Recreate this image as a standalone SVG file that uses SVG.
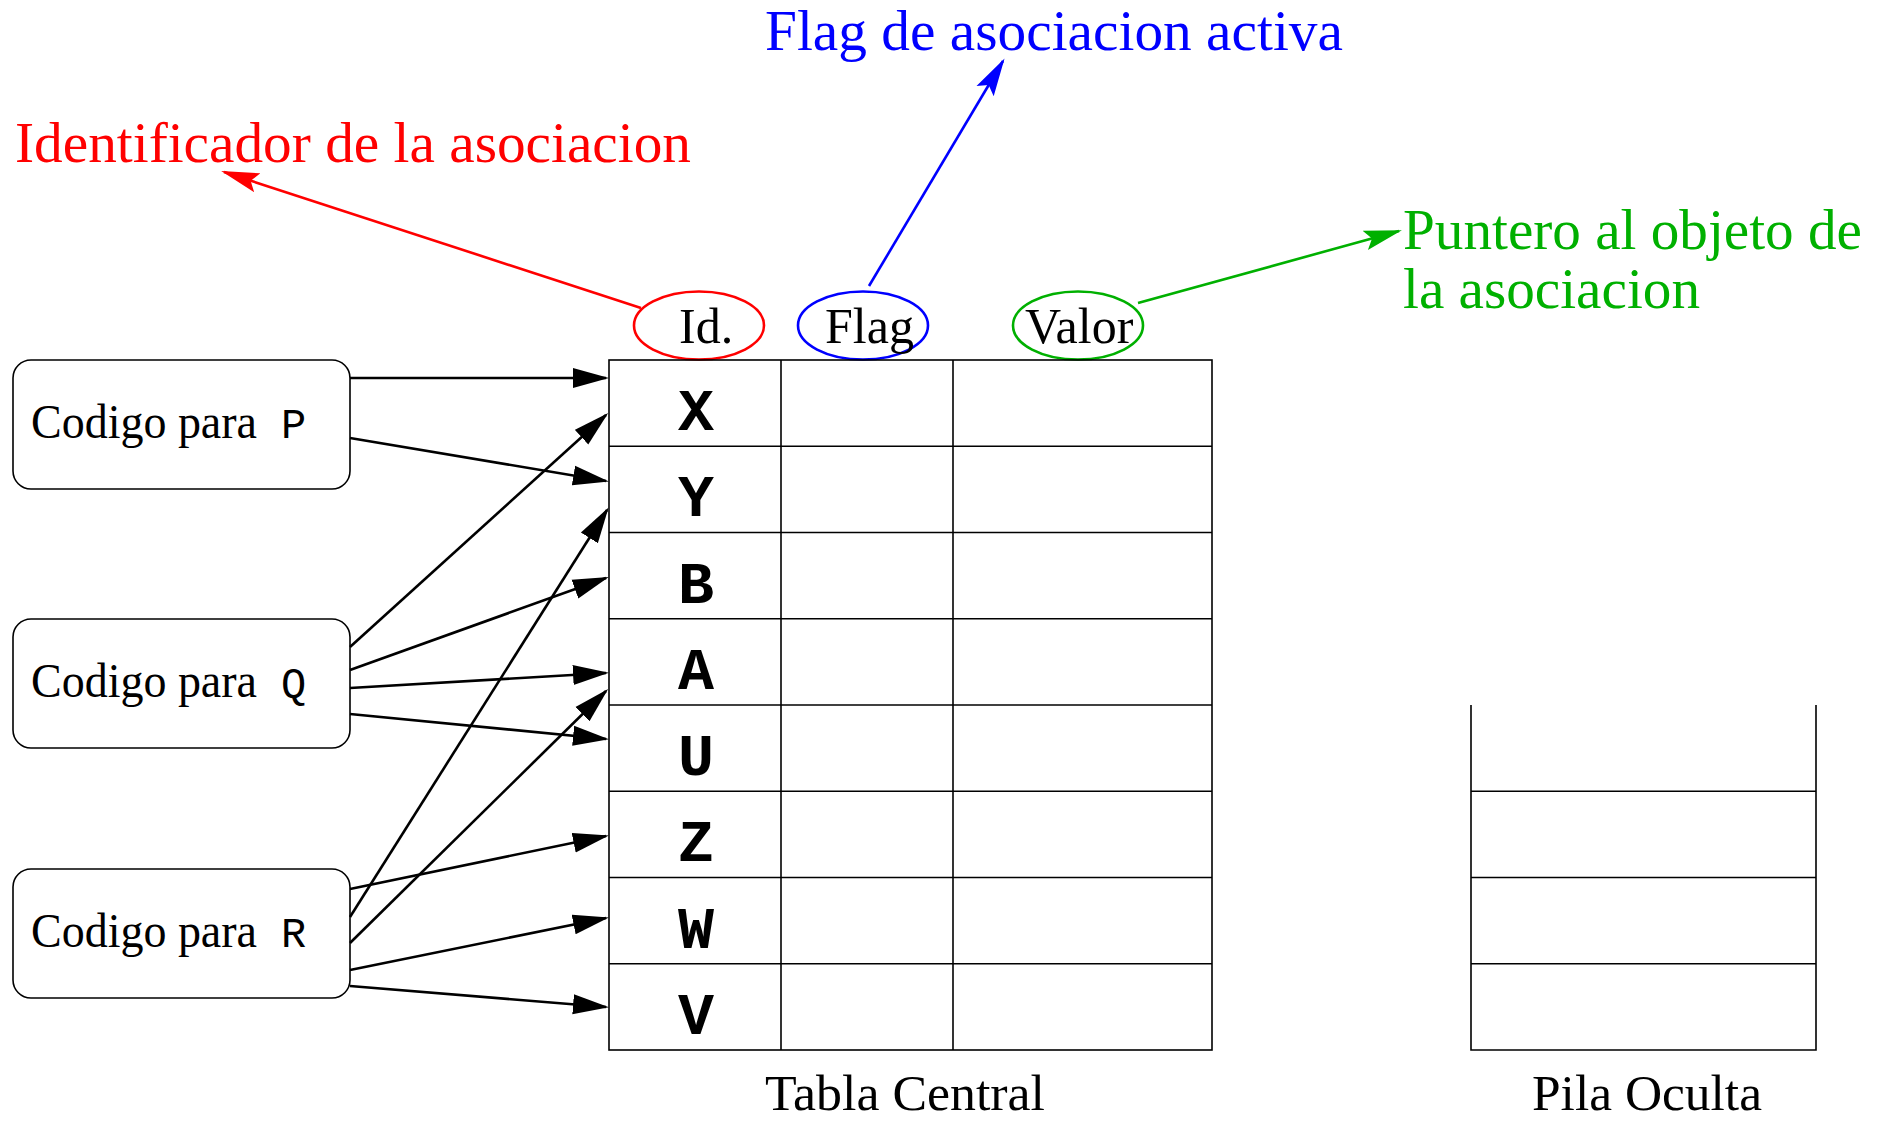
<svg xmlns="http://www.w3.org/2000/svg" width="1880" height="1123" viewBox="0 0 1880 1123">
<style>
.serif{font-family:"Liberation Serif","Times New Roman",serif;}
.mono{font-family:"Liberation Mono","Courier New",monospace;}
.cell{font-family:"Liberation Mono","Courier New",monospace;font-weight:bold;font-size:60px;text-anchor:middle;fill:#000;}
.grid{stroke:#000;stroke-width:1.6;fill:none;}
.box{fill:#fff;stroke:#000;stroke-width:1.6;}
.conn{stroke:#000;stroke-width:2.6;fill:none;marker-end:url(#ah);}
</style>
<defs>
<marker id="ah" markerUnits="userSpaceOnUse" markerWidth="36" markerHeight="22" viewBox="0 0 36 22" refX="33" refY="11" orient="auto"><path d="M0,1 L36,11 L0,21 Z" fill="#000"/></marker>
<marker id="ahr" markerUnits="userSpaceOnUse" markerWidth="38" markerHeight="24" viewBox="0 0 38 24" refX="35" refY="12" orient="auto"><path d="M0,2 L38,12 L0,22 L7,12 Z" fill="#ff0000"/></marker>
<marker id="ahb" markerUnits="userSpaceOnUse" markerWidth="38" markerHeight="24" viewBox="0 0 38 24" refX="35" refY="12" orient="auto"><path d="M0,2 L38,12 L0,22 L7,12 Z" fill="#0000ff"/></marker>
<marker id="ahg" markerUnits="userSpaceOnUse" markerWidth="38" markerHeight="24" viewBox="0 0 38 24" refX="35" refY="12" orient="auto"><path d="M0,2 L38,12 L0,22 L7,12 Z" fill="#00b000"/></marker>
</defs>
<rect width="1880" height="1123" fill="#fff"/>

<g id="labels">
<text class="serif" x="15" y="162" font-size="57" fill="#ff0000" textLength="676" lengthAdjust="spacingAndGlyphs">Identificador de la asociacion</text>
<text class="serif" x="765" y="50" font-size="57" fill="#0000ff" textLength="578" lengthAdjust="spacingAndGlyphs">Flag de asociacion activa</text>
<text class="serif" x="1403" y="249" font-size="57" fill="#00b000" textLength="459" lengthAdjust="spacingAndGlyphs">Puntero al objeto de</text>
<text class="serif" x="1403" y="308" font-size="57" fill="#00b000" textLength="297" lengthAdjust="spacingAndGlyphs">la asociacion</text>
</g>

<g id="header-id">
<ellipse cx="699" cy="325.5" rx="65" ry="34" fill="none" stroke="#ff0000" stroke-width="2.6"/>
<text class="serif" x="679" y="343" font-size="50">Id.</text>
</g>
<g id="header-flag">
<ellipse cx="863" cy="325.5" rx="65" ry="34" fill="none" stroke="#0000ff" stroke-width="2.6"/>
<text class="serif" x="825" y="343" font-size="50">Flag</text>
</g>
<g id="header-valor">
<ellipse cx="1078" cy="325.5" rx="65" ry="34" fill="none" stroke="#00b000" stroke-width="2.6"/>
<text class="serif" x="1025" y="343" font-size="50">Valor</text>
</g>

<g id="tabla-central">
<rect class="grid" x="609" y="360" width="603" height="690"/>
<line class="grid" x1="781" y1="360" x2="781" y2="1050"/>
<line class="grid" x1="953" y1="360" x2="953" y2="1050"/>
<line class="grid" x1="609" y1="446.25" x2="1212" y2="446.25"/>
<line class="grid" x1="609" y1="532.5" x2="1212" y2="532.5"/>
<line class="grid" x1="609" y1="618.75" x2="1212" y2="618.75"/>
<line class="grid" x1="609" y1="705" x2="1212" y2="705"/>
<line class="grid" x1="609" y1="791.25" x2="1212" y2="791.25"/>
<line class="grid" x1="609" y1="877.5" x2="1212" y2="877.5"/>
<line class="grid" x1="609" y1="963.75" x2="1212" y2="963.75"/>
<text class="cell" x="696" y="430">X</text>
<text class="cell" x="696" y="516.25">Y</text>
<text class="cell" x="696" y="602.5">B</text>
<text class="cell" x="696" y="688.75">A</text>
<text class="cell" x="696" y="775">U</text>
<text class="cell" x="696" y="861.25">Z</text>
<text class="cell" x="696" y="947.5">W</text>
<text class="cell" x="696" y="1033.75">V</text>
<text class="serif" x="765" y="1110" font-size="50" textLength="280" lengthAdjust="spacingAndGlyphs">Tabla Central</text>
</g>

<g id="pila-oculta">
<path class="grid" d="M1471,705 L1471,1050 L1816,1050 L1816,705"/>
<line class="grid" x1="1471" y1="791.25" x2="1816" y2="791.25"/>
<line class="grid" x1="1471" y1="877.5" x2="1816" y2="877.5"/>
<line class="grid" x1="1471" y1="963.75" x2="1816" y2="963.75"/>
<text class="serif" x="1532" y="1110" font-size="50" textLength="230" lengthAdjust="spacingAndGlyphs">Pila Oculta</text>
</g>

<g id="codigo-p">
<rect class="box" x="13" y="360" width="337" height="129" rx="18" ry="18"/>
<text class="serif" x="31" y="438" font-size="48" textLength="226" lengthAdjust="spacingAndGlyphs">Codigo para</text>
<text class="mono" x="281" y="438" font-size="42">P</text>
</g>
<g id="codigo-q">
<rect class="box" x="13" y="619" width="337" height="129" rx="18" ry="18"/>
<text class="serif" x="31" y="697" font-size="48" textLength="226" lengthAdjust="spacingAndGlyphs">Codigo para</text>
<text class="mono" x="281" y="697" font-size="42">Q</text>
</g>
<g id="codigo-r">
<rect class="box" x="13" y="869" width="337" height="129" rx="18" ry="18"/>
<text class="serif" x="31" y="947" font-size="48" textLength="226" lengthAdjust="spacingAndGlyphs">Codigo para</text>
<text class="mono" x="281" y="947" font-size="42">R</text>
</g>

<g id="connectors">
<line class="conn" x1="350" y1="378" x2="606" y2="378"/>
<line class="conn" x1="350" y1="438" x2="606" y2="481"/>
<line class="conn" x1="350" y1="647" x2="606" y2="415"/>
<line class="conn" x1="350" y1="670" x2="606" y2="578"/>
<line class="conn" x1="350" y1="688" x2="606" y2="673"/>
<line class="conn" x1="350" y1="714" x2="606" y2="739"/>
<line class="conn" x1="350" y1="889" x2="606" y2="836"/>
<line class="conn" x1="350" y1="917" x2="607" y2="510"/>
<line class="conn" x1="350" y1="943" x2="606" y2="691"/>
<line class="conn" x1="350" y1="970" x2="606" y2="918"/>
<line class="conn" x1="350" y1="986" x2="606" y2="1007"/>
<line x1="641" y1="308" x2="224" y2="172" stroke="#ff0000" stroke-width="2.6" marker-end="url(#ahr)"/>
<line x1="869" y1="286" x2="1003" y2="61" stroke="#0000ff" stroke-width="2.6" marker-end="url(#ahb)"/>
<line x1="1138" y1="303" x2="1399" y2="231" stroke="#00b000" stroke-width="2.6" marker-end="url(#ahg)"/>
</g>
</svg>
